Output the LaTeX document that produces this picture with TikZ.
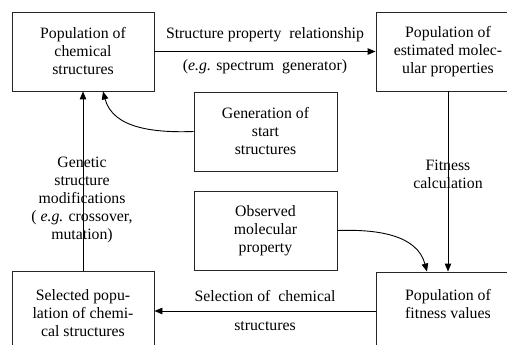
\documentclass[tikz,border=0pt]{standalone}
\usepackage{fontspec}
\setmainfont{Liberation Serif}
\usetikzlibrary{arrows.meta,calc}
\begin{document}
\begin{tikzpicture}[x=1pt,y=-1pt,
  every node/.style={font=\fontsize{15.8}{18}\selectfont, align=center, inner sep=0pt},
  box/.style={draw=black!85, line width=0.9pt, minimum width=142pt, minimum height=79pt},
  lbl/.style={},
  arr/.style={line width=0.9pt, -{Triangle[length=8pt,width=6.5pt]}}]
\useasboundingbox (0,0) rectangle (507,345);
\clip (0,0) rectangle (507,345);
% boxes
\node[box] (pcs) at (83,51.5) {Population of\\chemical\\structures};
\node[box, minimum width=144pt] (pem) at (448,51.5) {Population of\\estimated molec-\\ular properties};
\node[box, minimum width=143pt] (gen) at (265.5,131.5) {Generation of\\start\\structures};
\node[box, minimum width=143pt] (obs) at (265.5,230.5) {Observed\\molecular\\property};
\node[box, minimum height=84pt] (sel) at (83,313) {Selected popu-\\lation of chemi-\\cal structures};
\node[box, minimum width=144pt, minimum height=82pt] (fit) at (448,313) {Population of\\fitness values\\\mbox{}};
% connectors
\draw[arr] (pcs.east) -- (pem.west);
\draw[arr] (pem.south) -- (fit.north);
\draw[arr] (fit.west |- 0,311) -- (sel.east |- 0,311);
\draw[arr] (sel.north) -- (pcs.south);
\draw[arr] (gen.west) to[out=182,in=-75] ($(pcs.south)+(20,0)$);
\draw[arr] (obs.east) to[out=2,in=105] ($(fit.north)+(-21,0)$);
% labels
\node[lbl] (l1) at (265,35) {Structure property\ \ relationship};
\node[lbl] (l2) at (265,67) {(\textit{e.g.} spectrum\ \ generator)};
\node[lbl] (l3) at (448,174) {Fitness\\calculation};
\node[lbl] (l4) at (265,296) {Selection of\ \ chemical};
\node[lbl] (l5) at (265,326) {structures};
\node[lbl] (l6) at (82,199.5) {Genetic\\structure\\modifications\\( \textit{e.g.} crossover,\\mutation)};
\end{tikzpicture}
\end{document}
